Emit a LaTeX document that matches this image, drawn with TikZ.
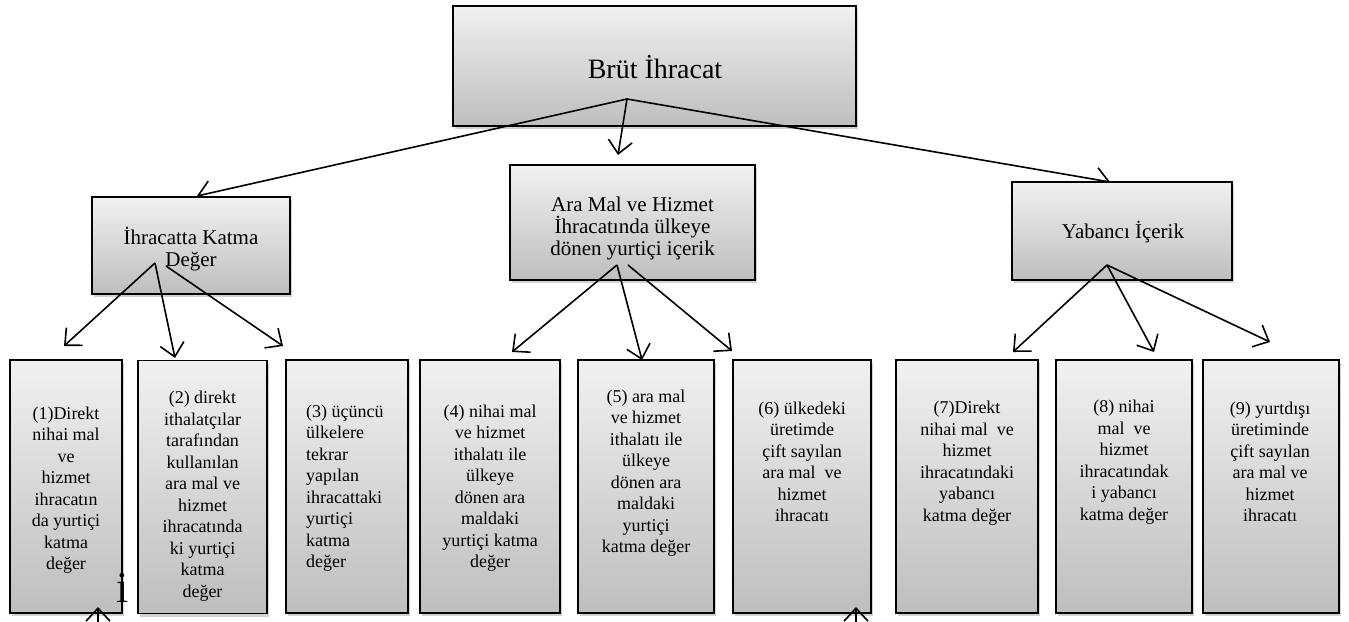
\documentclass[tikz,border=0pt]{standalone}
\usepackage{fontspec}
\setmainfont{Liberation Serif}
\usetikzlibrary{arrows.meta,shadows}
\definecolor{boxtop}{RGB}{241,241,241}
\definecolor{boxbot}{RGB}{190,190,190}
\begin{document}
\begin{tikzpicture}[x=1pt,y=-1pt,
  box/.style={draw=black, line width=1.9pt, top color=boxtop, bottom color=boxbot,
    drop shadow={opacity=0.25, shadow xshift=1.5pt, shadow yshift=-3pt, fill=black!70},
    inner sep=0pt, outer sep=0pt},
  arr/.style={line width=1.6pt, -{Straight Barb[length=13pt,width=24pt]}},
  tbig/.style={font=\fontsize{28}{32}\selectfont, inner sep=0pt},
  tmid/.style={font=\fontsize{21}{22}\selectfont, align=center, inner sep=0pt},
  tsmall/.style={font=\fontsize{18}{21.5}\selectfont, align=center, inner sep=0pt},
  tsmallleft/.style={font=\fontsize{18}{21.5}\selectfont, align=left, inner sep=0pt},
  lvthree/.style={box, minimum height=253pt}]
\useasboundingbox (0,0) rectangle (1349,621);

% connector end points
\coordinate (a0) at (627,99);
\coordinate (tL0) at (197,196);
\coordinate (tM0) at (618,155);
\coordinate (tR0) at (1110,182);
\coordinate (aL) at (155,263);
\coordinate (aL2) at (166,266);
\coordinate (t1) at (64,346);
\coordinate (t2) at (175,358);
\coordinate (t3) at (283,346);
\coordinate (aM) at (617,265);
\coordinate (aM2) at (628,265);
\coordinate (t4) at (512,352);
\coordinate (t5) at (642,360);
\coordinate (t6) at (732,351);
\coordinate (aR) at (1107,265);
\coordinate (t7) at (1013,352);
\coordinate (t8) at (1154,352);
\coordinate (t9) at (1270,342);
\coordinate (u1base) at (98,624);
\coordinate (u1tip) at (98,607);
\coordinate (u2base) at (856,624);
\coordinate (u2tip) at (856,607);

% top box
\node[box, minimum width=403pt, minimum height=120pt] (top) at (654.5,66) {};
\node[tbig, anchor=base] (toptext) at (655,78) {Brüt İhracat};

% arrows from top
\draw[arr] (a0) -- (tL0);
\draw[arr] (a0) -- (tM0);
\draw[arr] (a0) -- (tR0);

% level 2 boxes
\node[box, minimum width=198pt, minimum height=97pt] (L) at (191,245.5) {};
\node[tmid] (Ltext) at (191,249) {İhracatta Katma\\Değer};
\node[box, minimum width=245pt, minimum height=115pt] (M) at (632.5,222.5) {};
\node[tmid] (Mtext) at (632.5,228) {Ara Mal ve Hizmet\\İhracatında ülkeye\\dönen yurtiçi içerik};
\node[box, minimum width=220pt, minimum height=98pt] (R) at (1122,231) {};
\node[tmid, anchor=base] (Rtext) at (1123,238) {Yabancı İçerik};

% arrows from level 2
\draw[arr] (aL) -- (t1);
\draw[arr] (aL) -- (t2);
\draw[arr] (aL2) -- (t3);
\draw[arr] (aM) -- (t4);
\draw[arr] (aM) -- (t5);
\draw[arr] (aM2) -- (t6);
\draw[arr] (aR) -- (t7);
\draw[arr] (aR) -- (t8);
\draw[arr] (aR) -- (t9);

% level 3 boxes
\node[lvthree, minimum width=112pt] (b1) at (66,486.5) {};
\node[tsmall] (b1text) at (66,490) {(1)Direkt\\nihai mal\\ve\\hizmet\\ihracatın\\da yurtiçi\\katma\\değer};
\node[font=\fontsize{44}{44}\selectfont, inner sep=0pt, anchor=base] (stray) at (123,602) {i};
\node[lvthree, minimum width=129pt] (b2) at (202.5,487) {};
\node[tsmall] (b2text) at (202.5,496) {(2) direkt\\ithalatçılar\\tarafından\\kullanılan\\ara mal ve\\hizmet\\ihracatında\\ki yurtiçi\\katma\\değer};
\node[lvthree, minimum width=122pt] (b3) at (347,486.5) {};
\node[tsmallleft, anchor=west] (b3text) at (306,488) {(3) üçüncü\\ülkelere\\tekrar\\yapılan\\ihracattaki\\yurtiçi\\katma\\değer};
\node[lvthree, minimum width=140pt] (b4) at (490,486.5) {};
\node[tsmall] (b4text) at (490,488) {(4) nihai mal\\ve hizmet\\ithalatı ile\\ülkeye\\dönen ara\\maldaki\\yurtiçi katma\\değer};
\node[lvthree, minimum width=136pt] (b5) at (646,486.5) {};
\node[tsmall] (b5text) at (646,473) {(5) ara mal\\ve hizmet\\ithalatı ile\\ülkeye\\dönen ara\\maldaki\\yurtiçi\\katma değer};
\node[lvthree, minimum width=138pt] (b6) at (802,486.5) {};
\node[tsmall] (b6text) at (802,462) {(6) ülkedeki\\üretimde\\çift sayılan\\ara mal~~ve\\hizmet\\ihracatı};
\node[lvthree, minimum width=142pt] (b7) at (967,486.5) {};
\node[tsmall] (b7text) at (967,463) {(7)Direkt\\nihai mal~~ve\\hizmet\\ihracatındaki\\yabancı\\katma değer};
\node[lvthree, minimum width=136pt] (b8) at (1124,486.5) {};
\node[tsmall] (b8text) at (1124,462) {(8) nihai\\mal~~ve\\hizmet\\ihracatındak\\i yabancı\\katma değer};
\node[lvthree, minimum width=136pt] (b9) at (1271,486.5) {};
\node[tsmall] (b9text) at (1270,462) {(9) yurtdışı\\üretiminde\\çift sayılan\\ara mal ve\\hizmet\\ihracatı};

% stray upward arrows at the bottom
\draw[arr] (u1base) -- (u1tip);
\draw[arr] (u2base) -- (u2tip);
\end{tikzpicture}
\end{document}
